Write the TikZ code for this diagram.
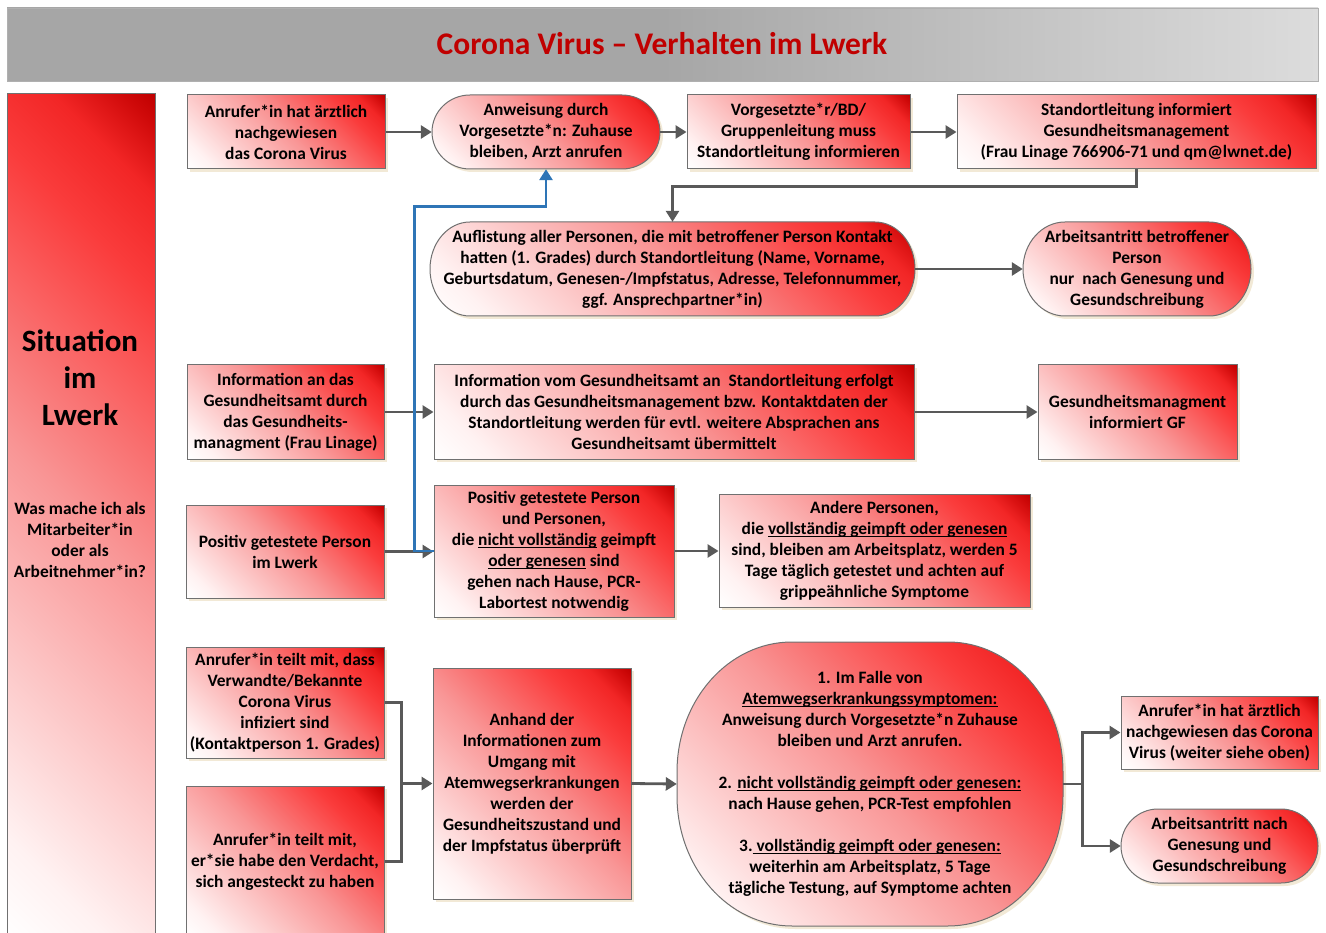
\documentclass[tikz,border=0pt]{standalone}
\usepackage{fontspec}
\setmainfont{Carlito}
\usetikzlibrary{calc,arrows.meta,shadows}
\definecolor{dred}{HTML}{C00000}
\definecolor{titlered}{HTML}{C00000}
\definecolor{agray}{HTML}{595959}
\definecolor{bgray}{HTML}{707070}
\definecolor{lblue}{HTML}{2E75B6}
\definecolor{shadowtan}{HTML}{EFE4CC}
\definecolor{rA}{HTML}{FFF2F2}
\definecolor{rB}{HTML}{F99696}
\definecolor{rC}{HTML}{FA3C3C}
\definecolor{rD}{HTML}{F22626}
\definecolor{rE}{HTML}{D00A0A}
\definecolor{gA}{HTML}{A6A6A6}
\definecolor{gB}{HTML}{DCDCDC}
\pgfdeclarehorizontalshading{redcorner}{100bp}{color(0bp)=(white); color(32.3bp)=(white); color(35.9bp)=(rA); color(50bp)=(rB); color(60.6bp)=(rC); color(64.1bp)=(rD); color(66.6bp)=(rE); color(67.7bp)=(dred); color(100bp)=(dred)}
\pgfdeclarehorizontalshading{titlebar}{100bp}{color(0bp)=(gA); color(50bp)=(gA); color(75bp)=(gB); color(100bp)=(gB)}
\newcommand\bodyfont{\bfseries\fontsize{17.4}{21}\selectfont}
\newcommand\uln[1]{\setbox0\hbox{#1}\rlap{\rule[-2.6pt]{\wd0}{1pt}}\box0\relax}
\tikzset{
  grad/.style={path picture={\shade[shading=redcorner,shading angle=45] let \p1=(path picture bounding box.south west), \p2=(path picture bounding box.north east), \p3=(path picture bounding box.center), \n1={(\x2-\x1+\y2-\y1)/2} in (\x3-\n1,\y3-\n1) rectangle (\x3+\n1,\y3+\n1);}},
  box/.style={draw=bgray, line width=1pt, grad, drop shadow={shadow xshift=3pt, shadow yshift=-3pt, fill=shadowtan, opacity=0.8}},
  txt/.style={inner sep=0pt, align=center, font=\bodyfont},
  rbox/.style={box, rectangle, txt},
  arr/.style={draw=agray, line width=2.8pt, -{Triangle[length=11pt,width=13pt]}},
  ln/.style={draw=agray, line width=2.8pt},
  barr/.style={draw=lblue, line width=2.8pt, -{Triangle[length=11pt,width=13pt]}},
}
\newcommand\pill[8]{%
  \path[box] (#2+#6,#3) -- (#4-#6,#3) arc[start angle=270,end angle=360,x radius=#6,y radius=#7] -- (#4,#5-#7) arc[start angle=0,end angle=90,x radius=#6,y radius=#7] -- (#2+#6,#5) arc[start angle=90,end angle=180,x radius=#6,y radius=#7] -- (#2,#3+#7) arc[start angle=180,end angle=270,x radius=#6,y radius=#7] -- cycle;
  \node[txt, minimum width={#4-#2}, minimum height={#5-#3}] (#1) at ({(#2+#4)/2},{(#3+#5)/2}) {#8};
}
\begin{document}
\begin{tikzpicture}[x=1pt,y=-1pt]
\useasboundingbox (0,0) rectangle (1326,933);
\clip (0,0) rectangle (1326,933);
\fill[white] (0,0) rectangle (1326,933);
% title bar
\node[rectangle, draw=gB!80!black, line width=0.8pt, shading=titlebar, shading angle=0, minimum width=1311pt, minimum height=73pt, inner sep=0pt] (titlebar) at (662.5,44.5) {};
\node[font=\bfseries\fontsize{31.5}{36}\selectfont, text=titlered] (title) at (662,44) {Corona Virus – Verhalten im Lwerk};
% left column
\node[rectangle, draw=bgray, line width=1pt, grad, minimum width=148pt, minimum height=846pt, inner sep=0pt] (col) at (81,517) {};
\node[txt, font=\bfseries\fontsize{31}{37}\selectfont] (sit) at (80,378) {Situation\\im\\Lwerk};
\node[txt] (was) at (80,540) {Was mache ich als\\Mitarbeiter*in\\oder als\\Arbeitnehmer*in?};
% row 1
\node[rbox, minimum width=198pt, minimum height=74pt] (A1) at (286,132) {Anrufer*in hat ärztlich\\nachgewiesen\\das Corona Virus};
\pill{A2}{432}{95}{660}{169}{38}{37}{Anweisung durch\\Vorgesetzte*n: Zuhause\\bleiben, Arzt anrufen}
\node[rbox, minimum width=223pt, minimum height=74pt] (A3) at (798.5,132) {Vorgesetzte*r/BD/\\Gruppenleitung muss\\Standortleitung informieren};
\node[rbox, minimum width=359pt, minimum height=74pt] (A4) at (1136.5,132) {Standortleitung informiert\\Gesundheitsmanagement\\(Frau Linage 766906-71 und qm@lwnet.de)};
% row 2
\pill{A5}{430}{222}{915}{316}{40}{47}{Auflistung aller Personen, die mit betroffener Person Kontakt\\hatten (1. Grades) durch Standortleitung (Name, Vorname,\\Geburtsdatum, Genesen-/Impfstatus, Adresse, Telefonnummer,\\ggf. Ansprechpartner*in)}
\pill{A6}{1023}{222}{1251}{316}{42}{47}{Arbeitsantritt betroffener\\Person\\nur\ \ nach Genesung und\\Gesundschreibung}
% row 3
\node[rbox, minimum width=197pt, minimum height=94pt] (B1) at (285.5,412) {Information an das\\Gesundheitsamt durch\\das Gesundheits-\\managment (Frau Linage)};
\node[rbox, minimum width=480pt, minimum height=94pt] (B2) at (674,412) {Information vom Gesundheitsamt an\ \ Standortleitung erfolgt\\durch das Gesundheitsmanagement bzw. Kontaktdaten der\\Standortleitung werden für evtl. weitere Absprachen ans\\Gesundheitsamt übermittelt};
\node[rbox, minimum width=199pt, minimum height=94pt] (B3) at (1137.5,412) {Gesundheitsmanagment\\informiert GF};
% row 4
\node[rbox, minimum width=198pt, minimum height=93pt] (C1) at (285,551.5) {Positiv getestete Person\\im Lwerk};
\node[rbox, minimum width=240pt, minimum height=132pt] (C2) at (554,551) {Positiv getestete Person\\und Personen,\\die \uln{nicht vollständig} geimpft\\\uln{oder genesen} sind\\gehen nach Hause, PCR-\\Labortest notwendig};
\node[rbox, minimum width=311pt, minimum height=113pt] (C3) at (874.5,550.5) {Andere Personen,\\die \uln{vollständig geimpft oder genesen}\\sind, bleiben am Arbeitsplatz, werden 5\\Tage täglich getestet und achten auf\\grippeähnliche Symptome};
% row 5
\node[rbox, minimum width=198pt, minimum height=111pt] (D1) at (285,702.5) {Anrufer*in teilt mit, dass\\Verwandte/Bekannte\\Corona Virus\\infiziert sind\\(Kontaktperson 1. Grades)};
\node[rbox, minimum width=198pt, minimum height=151pt] (D2) at (285,861.5) {Anrufer*in teilt mit,\\er*sie habe den Verdacht,\\sich angesteckt zu haben};
\node[rbox, minimum width=198pt, minimum height=231pt] (D3) at (532,783.5) {Anhand der\\Informationen zum\\Umgang mit\\Atemwegserkrankungen\\werden der\\Gesundheitszustand und\\der Impfstatus überprüft};
\pill{D4}{677}{642}{1063}{926}{115}{130}{1. Im Falle von\\\uln{Atemwegserkrankungssymptomen:}\\Anweisung durch Vorgesetzte*n Zuhause\\bleiben und Arzt anrufen.\\[21pt]2. \uln{nicht vollständig geimpft oder genesen:}\\nach Hause gehen, PCR-Test empfohlen\\[21pt]3.\uln{ vollständig geimpft oder genesen:}\\weiterhin am Arbeitsplatz, 5 Tage\\tägliche Testung, auf Symptome achten}
\node[rbox, minimum width=197pt, minimum height=73pt] (D5) at (1219.5,732.5) {Anrufer*in hat ärztlich\\nachgewiesen das Corona\\Virus (weiter siehe oben)};
\pill{D6}{1121}{809}{1318}{883}{37}{37}{Arbeitsantritt nach\\Genesung und\\Gesundschreibung}
% connectors
\draw[arr] (A1.east) -- (A2.west);
\draw[arr] (A2.east) -- (A3.west);
\draw[arr] (A3.east) -- (A4.west);
\draw[arr] (A4.south) -- ++(0,17) -| (A5.north);
\draw[arr] (A5.east) -- (A6.west);
\draw[arr] (B1.east) -- (B2.west);
\draw[arr] (B2.east) -- (B3.west);
\draw[arr] (C1.east) -- (C1.east -| C2.west);
\draw[arr] (C2.east) -- (C2.east -| C3.west);
\draw[barr] (C2.west) -- ++(-19,0) |- ($(A2.south)+(0,37)$) -- (A2.south);
\coordinate (J1) at ($(D3.west)+(-31,0)$);
\draw[arr] (D1.east) -| (J1) -- (D3.west);
\draw[ln] (D2.east) -| (J1);
\draw[arr] (D3.east) -- (D4.west);
\coordinate (J2) at ($(D4.east)+(19,0)$);
\draw[arr] (D4.east) -- (J2) |- (D5.west);
\draw[arr] (J2) |- (D6.west);
\end{tikzpicture}
\end{document}
